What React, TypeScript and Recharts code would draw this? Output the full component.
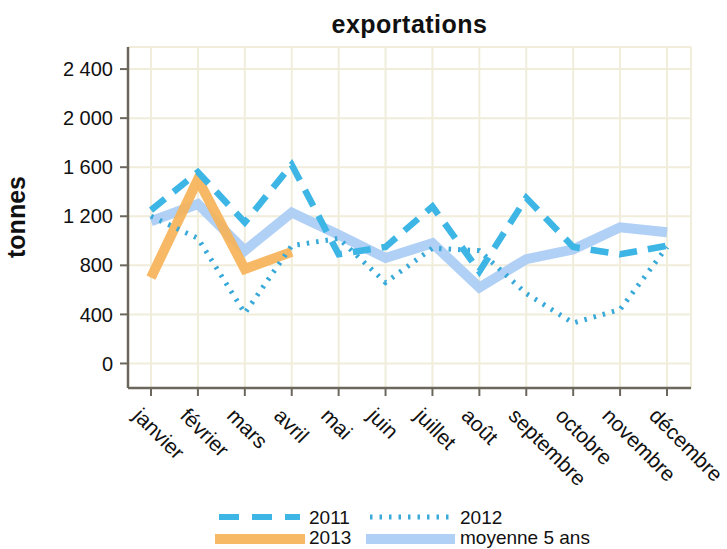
import React from "react";
import { LineChart, Line, XAxis, YAxis, CartesianGrid } from "recharts";

const months = ["janvier", "février", "mars", "avril", "mai", "juin", "juillet", "août", "septembre", "octobre", "novembre", "décembre"];
const s2011 = [1250, 1560, 1150, 1620, 890, 950, 1280, 750, 1350, 950, 890, 960];
const s2012 = [1200, 1020, 410, 960, 1020, 660, 940, 920, 570, 330, 440, 950];
const s2013: (number | null)[] = [700, 1500, 770, 910, null, null, null, null, null, null, null, null];
const sMoy = [1160, 1300, 920, 1230, 1050, 860, 980, 620, 850, 930, 1110, 1070];
const yTicks = [0, 400, 800, 1200, 1600, 2000, 2400];
const seriesNames = ["2011", "2012", "2013", "moyenne 5 ans"];

const data = months.map((m, i) => ({
  month: m,
  a2011: s2011[i],
  a2012: s2012[i],
  a2013: s2013[i],
  moy: sMoy[i],
}));

const FONT = "'Liberation Sans', Arial, sans-serif";
const C2011 = "#3db6e6";
const C2012 = "#38a9d9";
const C2013 = "#f7b155";
const CMOY = "#a8cbf4";
const FRAME = "#6b675c";
const GRID = "#f0eddb";

const fmt = (v: number) => String(v).replace(/\B(?=(\d{3})+(?!\d))/g, " ");

const XTick = (props: any) => {
  const { x, y, payload } = props;
  const ax = x - 19;
  const ay = y + 21;
  return (
    <text x={ax} y={ay} transform={`rotate(45, ${ax}, ${ay})`} textAnchor="start" fontFamily={FONT} fontSize={21} fill="#111">
      {payload.value}
    </text>
  );
};

export default function App() {
  return (
    <div style={{ position: "absolute", left: 0, top: 0, width: 727, height: 549, background: "#fff", fontFamily: FONT }}>
      <LineChart width={727} height={549} data={data} margin={{ top: 47, right: 36, bottom: 61, left: 38 }}>
        <CartesianGrid stroke={GRID} strokeWidth={2} />
        <XAxis
          dataKey="month"
          padding={{ left: 23, right: 24 }}
          tick={<XTick />}
          tickSize={8}
          tickMargin={0}
          interval={0}
          height={100}
          axisLine={{ stroke: FRAME, strokeWidth: 2.5 }}
          tickLine={{ stroke: FRAME, strokeWidth: 2 }}
        />
        <XAxis xAxisId="top" dataKey="month" orientation="top" height={0} tick={false} tickLine={false} axisLine={{ stroke: FRAME, strokeWidth: 2.5 }} />
        <YAxis
          domain={[-200, 2580]}
          ticks={yTicks}
          tickFormatter={fmt}
          width={90}
          tickSize={8}
          tickMargin={7}
          tick={{ fontFamily: FONT, fontSize: 20, fill: "#111" }}
          axisLine={{ stroke: FRAME, strokeWidth: 2.5 }}
          tickLine={{ stroke: FRAME, strokeWidth: 2 }}
          allowDataOverflow
        />
        <YAxis yAxisId="right" orientation="right" domain={[-200, 2580]} width={0} tick={false} tickLine={false} axisLine={{ stroke: FRAME, strokeWidth: 2.5 }} />
        <Line dataKey="moy" stroke={CMOY} strokeWidth={10} strokeOpacity={0.9} dot={false} isAnimationActive={false} strokeLinejoin="miter" />
        <Line dataKey="a2013" stroke={C2013} strokeWidth={10} strokeOpacity={0.9} dot={false} isAnimationActive={false} strokeLinejoin="miter" />
        <Line dataKey="a2012" stroke={C2012} strokeWidth={5} strokeDasharray="2.5 7" dot={false} isAnimationActive={false} />
        <Line dataKey="a2011" stroke={C2011} strokeWidth={6.5} strokeDasharray="18 11" dot={false} isAnimationActive={false} />
      </LineChart>
      <div style={{ position: "absolute", left: 128, width: 563, top: 10, textAlign: "center", fontSize: 25, fontWeight: "bold", color: "#111", letterSpacing: 0.5 }}>
        exportations
      </div>
      <div style={{ position: "absolute", left: 29, top: 217, width: 0, height: 0 }}>
        <div style={{ position: "absolute", transform: "translate(-50%, -100%) rotate(-90deg)", transformOrigin: "50% 100%", fontSize: 25, fontWeight: "bold", color: "#111", whiteSpace: "nowrap", left: 0, top: 0, lineHeight: "25px" }}>
          tonnes
        </div>
      </div>
      <svg width={727} height={549} style={{ position: "absolute", left: 0, top: 0, pointerEvents: "none" }}>
        <line x1={219} x2={300} y1={517} y2={517} stroke={C2011} strokeWidth={6} strokeDasharray="20 13" />
        <text x={309} y={524} fontFamily={FONT} fontSize={19} fill="#111">{seriesNames[0]}</text>
        <line x1={370} x2={450} y1={517} y2={517} stroke={C2012} strokeWidth={5} strokeDasharray="2.5 7" />
        <text x={460} y={524} fontFamily={FONT} fontSize={19} fill="#111">{seriesNames[1]}</text>
        <line x1={215} x2={305} y1={539} y2={539} stroke={C2013} strokeWidth={10} strokeOpacity={0.9} />
        <text x={309} y={544} fontFamily={FONT} fontSize={19} fill="#111">{seriesNames[2]}</text>
        <line x1={366} x2={455} y1={539} y2={539} stroke={CMOY} strokeWidth={10} strokeOpacity={0.9} />
        <text x={460} y={544} fontFamily={FONT} fontSize={19} fill="#111">{seriesNames[3]}</text>
      </svg>
    </div>
  );
}
